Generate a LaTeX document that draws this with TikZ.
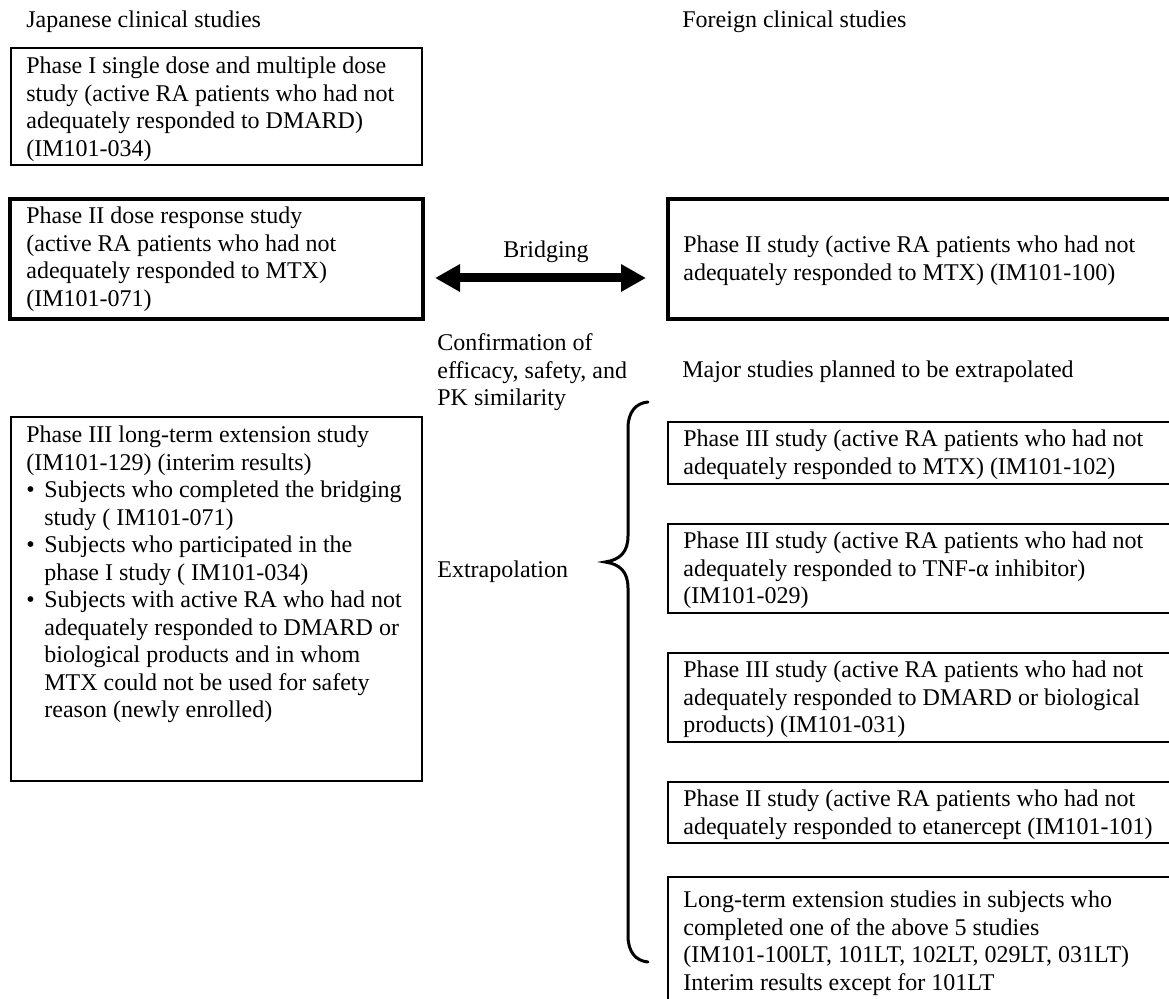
\documentclass[tikz,border=0pt]{standalone}
\usepackage{fontspec}
\setmainfont{Liberation Serif}
\usetikzlibrary{arrows.meta,fit}
\newcommand\Lns[1]{\vtop{\baselineskip=13.75pt\lineskiplimit=-20pt\lineskip=0pt #1}}
\newcommand\Bul[1]{\hbox{\rlap{•}\hspace{9pt}#1}}
\newcommand\Ind[1]{\hbox{\hspace{9pt}#1}}
\begin{document}
\begin{tikzpicture}[x=0.5pt,y=-0.5pt]
\tikzset{
  thinbox/.style={draw, line width=1pt, inner sep=0pt},
  thickbox/.style={draw, line width=2pt, inner sep=0pt},
  txt/.style={anchor=base west, inner sep=0pt, font=\fontsize{12}{13.75}\selectfont},
  bigarrow/.style={line width=4.5pt, {Triangle[length=12.5pt,width=13pt]}-{Triangle[length=12.5pt,width=13pt]}},
  bracepen/.style={line width=1.5pt, line cap=round}
}
\useasboundingbox (0,0) rectangle (1169,999);
\clip (0,0) rectangle (1169,999);

% headers
\node[txt] (hj) at (26,28) {Japanese clinical studies};
\node[txt] (hf) at (682,28) {Foreign clinical studies};

% box 1
\node[thinbox, fit={(11,48) (422,165)}] (b1) {};
\node[txt] (t1) at (26,74) {\Lns{\hbox{Phase I single dose and multiple dose}\hbox{study (active RA patients who had not}\hbox{adequately responded to DMARD)}\hbox{(IM101-034)}}};

% box 2 (bridging, Japan)
\node[thickbox, fit={(10,199) (423,319)}] (b2) {};
\node[txt] (t2) at (26,224) {\Lns{\hbox{Phase II dose response study}\hbox{(active RA patients who had not}\hbox{adequately responded to MTX)}\hbox{(IM101-071)}}};

% box 3 (bridging, foreign)
\node[thickbox, fit={(668,199) (1190,319)}] (b3) {};
\node[txt] (t3) at (683,253) {\Lns{\hbox{Phase II study (active RA patients who had not}\hbox{adequately responded to MTX) (IM101-100)}}};

% bridging arrow
\node[txt, anchor=base] (lbr) at (546,258) {Bridging};
\draw[bigarrow] ([xshift=5pt,yshift=-9.5pt]b2.east) -- ([xshift=-10pt,yshift=-9.5pt]b3.west);

% middle labels
\node[txt] (conf) at (437,351) {\Lns{\hbox{Confirmation of}\hbox{efficacy, safety, and}\hbox{PK similarity}}};
\node[txt] (major) at (682,378) {Major studies planned to be extrapolated};
\node[txt] (extra) at (437,578) {Extrapolation};

% left long-term box
\node[thinbox, fit={(11,417) (422,781)}] (b4) {};
\node[txt] (t4) at (26,443) {\Lns{\hbox{Phase III long-term extension study}\hbox{(IM101-129) (interim results)}\Bul{Subjects who completed the bridging}\Ind{study ( IM101-071)}\Bul{Subjects who participated in the}\Ind{phase I study ( IM101-034)}\Bul{Subjects with active RA who had not}\Ind{adequately responded to DMARD or}\Ind{biological products and in whom}\Ind{MTX could not be used for safety}\Ind{reason (newly enrolled)}}};

% right column boxes
\node[thinbox, fit={(668,422) (1190,484)}] (b5) {};
\node[txt] (t5) at (683,447) {\Lns{\hbox{Phase III study (active RA patients who had not}\hbox{adequately responded to MTX) (IM101-102)}}};

\node[thinbox, fit={(668,524) (1190,613)}] (b6) {};
\node[txt] (t6) at (683,549) {\Lns{\hbox{Phase III study (active RA patients who had not}\hbox{adequately responded to TNF-α inhibitor)}\hbox{(IM101-029)}}};

\node[thinbox, fit={(668,653) (1190,742)}] (b7) {};
\node[txt] (t7) at (683,678) {\Lns{\hbox{Phase III study (active RA patients who had not}\hbox{adequately responded to DMARD or biological}\hbox{products) (IM101-031)}}};

\node[thinbox, fit={(668,782) (1190,843)}] (b8) {};
\node[txt] (t8) at (683,807) {\Lns{\hbox{Phase II study (active RA patients who had not}\hbox{adequately responded to etanercept (IM101-101)}}};

\node[thinbox, fit={(668,877) (1190,1020)}] (b9) {};
\node[txt] (t9) at (683,908) {\Lns{\hbox{Long-term extension studies in subjects who}\hbox{completed one of the above 5 studies}\hbox{(IM101-100LT, 101LT, 102LT, 029LT, 031LT)}\hbox{Interim results except for 101LT}}};

% brace
\coordinate (brtop) at (648,402);
\coordinate (brtip) at (605,562);
\coordinate (brbot) at (648,962);
\draw[bracepen] (brtop) .. controls (636,403) and (628,412) .. (628,428) -- (628,536)
  .. controls (628,552) and (620,560) .. (brtip)
  .. controls (620,564) and (628,572) .. (628,588) -- (628,936)
  .. controls (628,952) and (636,961) .. (brbot);
\end{tikzpicture}
\end{document}
